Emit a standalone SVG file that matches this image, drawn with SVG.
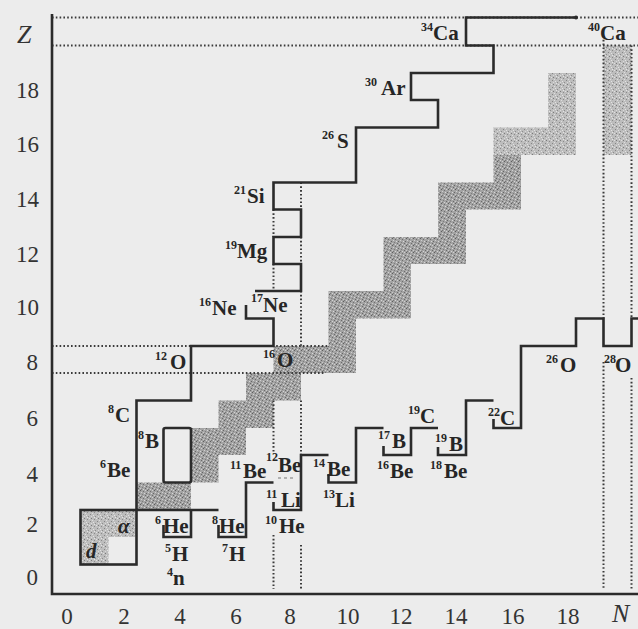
<svg xmlns="http://www.w3.org/2000/svg" width="638" height="629" viewBox="0 0 638 629">
<defs>
<pattern id="stipDark" width="7" height="7" patternUnits="userSpaceOnUse">
<rect width="7" height="7" fill="#a3a3a3"/>
<rect x="0" y="0" width="1" height="1" fill="#5e5e5e"/>
<rect x="3" y="1" width="1" height="1" fill="#6f6f6f"/>
<rect x="5" y="0" width="1" height="1" fill="#d0d0d0"/>
<rect x="1" y="2" width="1" height="1" fill="#cfcfcf"/>
<rect x="6" y="3" width="1" height="1" fill="#666666"/>
<rect x="2" y="4" width="1" height="1" fill="#7c7c7c"/>
<rect x="4" y="3" width="1" height="1" fill="#d8d8d8"/>
<rect x="0" y="5" width="1" height="1" fill="#c8c8c8"/>
<rect x="5" y="5" width="1" height="1" fill="#6a6a6a"/>
<rect x="3" y="6" width="1" height="1" fill="#d4d4d4"/>
<rect x="1" y="6" width="1" height="1" fill="#777777"/>
</pattern>
<pattern id="stipLight" width="7" height="7" patternUnits="userSpaceOnUse">
<rect width="7" height="7" fill="#bdbdbd"/>
<rect x="0" y="0" width="1" height="1" fill="#7a7a7a"/>
<rect x="3" y="1" width="1" height="1" fill="#8a8a8a"/>
<rect x="5" y="0" width="1" height="1" fill="#e0e0e0"/>
<rect x="1" y="2" width="1" height="1" fill="#dedede"/>
<rect x="6" y="3" width="1" height="1" fill="#858585"/>
<rect x="2" y="4" width="1" height="1" fill="#e2e2e2"/>
<rect x="4" y="5" width="1" height="1" fill="#8c8c8c"/>
<rect x="0" y="5" width="1" height="1" fill="#dadada"/>
<rect x="3" y="6" width="1" height="1" fill="#e4e4e4"/>
</pattern>
</defs>
<style>
.bg{fill:#ececec}
.shadeD{fill:url(#stipDark)}
.shadeL{fill:url(#stipLight)}
.drip{fill:none;stroke:#2b2b2b;stroke-width:2.6;stroke-linejoin:miter;stroke-linecap:butt}
.dot{fill:none;stroke:#3a3a3a;stroke-width:2;stroke-dasharray:1.6 2.2}
.axis{fill:none;stroke:#2b2b2b;stroke-width:2.6}
.num{font-family:"Liberation Serif","Times New Roman",serif;font-size:23px;fill:#333333}
.ax{font-family:"Liberation Serif","Times New Roman",serif;font-size:26px;font-style:italic;fill:#333333}
.lbl{font-family:"Liberation Serif","Times New Roman",serif;font-weight:bold;font-size:21px;fill:#262626}
.sup{font-family:"Liberation Serif","Times New Roman",serif;font-weight:bold;font-size:12px;fill:#262626}
.greek{font-family:"Liberation Serif","Times New Roman",serif;font-weight:bold;font-style:italic;font-size:21px;fill:#262626}
</style>

<rect class="bg" x="0" y="0" width="638" height="629"/>

<g id="stable-valley">
<path class="shadeL" d="M80.5 510H136.5V537H108.5V564.5H80.5Z"/>
<path class="shadeD" d="M136.5 482.5H191V510H136.5Z M191 455H218.5V482.5H191Z M191 428H246V455H191Z M218.5 400.5H273.5V428H218.5Z M246 373H301V400.5H246Z M273.5 346H356V373H273.5Z M328.5 318.5H356V346H328.5Z M328.5 291H411V318.5H328.5Z M383.5 264H411V291H383.5Z M383.5 237H466V264H383.5Z M438 209.5H466V237H438Z M438 182.5H521V209.5H438Z M493.5 155H521V182.5H493.5Z"/>
<path class="shadeL" d="M493.5 127.5H576V155H493.5Z M548 73H576V127.5H548Z M603.5 45.5H631.5V155H603.5Z"/>
</g>

<g id="magic-lines">
<path class="dot" d="M52 17.5H638 M52 45.5H638 M52 346H328.5 M52 373H325"/>
<path class="dot" d="M273.5 209.5V237 M273.5 264V291 M273.5 400.5V452 M273.5 535V589"/>
<path class="dot" d="M301 182.5V209.5 M301 237V264 M301 291V346 M301 400.5V455 M301 545V589"/>
<path class="dot" d="M603.5 36V318.5 M603.5 362V589 M631.5 45.5V318.5 M631.5 378V589"/>
</g>

<g id="axes">
<path class="axis" d="M52 14V594H638"/>
</g>

<g id="connectors">
<path id="proton-drip" class="drip" d="M136.5 510V400.5H191V346H273.5V318.5H246V305"/>
<path class="drip" d="M255 291H301V264H273.5V237H301V209.5H273.5V182.5H356V127.5H438V100H411V73H493.5V45.5H466V17.5H576"/>
<circle cx="576" cy="17.5" r="2" fill="#2b2b2b"/>
<path id="neutron-drip" class="drip" d="M136.5 510H218.5"/>
<path class="drip" d="M163.5 525V537H191V510"/>
<path class="drip" d="M218.5 525V537H246V482.5H273.5"/>
<path class="drip" d="M273.5 502V510H301V455H328.5"/>
<path class="drip" d="M328.5 474V482.5H356V428H383.5"/>
<path class="drip" d="M383.5 446V455H411V428H438"/>
<path class="drip" d="M438 447V455H466V400.5H493.5"/>
<path class="drip" d="M493.5 419V428H521V346H576V318.5H603.5V346H631.5V318.5H638"/>
<rect id="light-box" class="drip" x="80.5" y="510" width="56" height="54.5"/>
<rect id="be8-b9-box" class="drip" x="163.5" y="428" width="27.5" height="54.5" rx="2"/>
<path d="M278 478H296" fill="none" stroke="#777" stroke-width="1.2" stroke-dasharray="3 3"/>
</g>

<g id="axis-labels">
<text class="ax" x="17" y="43">Z</text>
<text class="ax" x="612" y="622">N</text>
<g class="num" text-anchor="end">
<text x="39" y="98">18</text>
<text x="39" y="152">16</text>
<text x="39" y="207">14</text>
<text x="39" y="262">12</text>
<text x="39" y="315">10</text>
<text x="38" y="370">8</text>
<text x="38" y="426">6</text>
<text x="38" y="482">4</text>
<text x="38" y="532">2</text>
<text x="38" y="585">0</text>
</g>
<g class="num" text-anchor="middle">
<text x="67" y="624">0</text>
<text x="124" y="624">2</text>
<text x="180" y="624">4</text>
<text x="236" y="624">6</text>
<text x="290" y="624">8</text>
<text x="348" y="624">10</text>
<text x="401" y="624">12</text>
<text x="456" y="624">14</text>
<text x="513" y="624">16</text>
<text x="568" y="624">18</text>
</g>
</g>

<g id="n-Ca34"><text class="sup" x="421" y="31">34</text><text class="lbl" x="433" y="40">Ca</text></g>
<g id="n-Ca40"><text class="sup" x="588" y="31">40</text><text class="lbl" x="600" y="40">Ca</text></g>
<g id="n-Ar30"><text class="sup" x="365" y="86">30</text><text class="lbl" x="381" y="95">Ar</text></g>
<g id="n-S26"><text class="sup" x="322" y="139">26</text><text class="lbl" x="337" y="148">S</text></g>
<g id="n-Si21"><text class="sup" x="234" y="194">21</text><text class="lbl" x="247" y="203">Si</text></g>
<g id="n-Mg19"><text class="sup" x="225" y="249">19</text><text class="lbl" x="237" y="258">Mg</text></g>
<g id="n-Ne16"><text class="sup" x="199" y="306">16</text><text class="lbl" x="212" y="315">Ne</text></g>
<g id="n-Ne17"><text class="sup" x="251" y="302">17</text><text class="lbl" x="263" y="312">Ne</text></g>
<g id="n-O12"><text class="sup" x="155" y="360">12</text><text class="lbl" x="170" y="369">O</text></g>
<g id="n-O16"><text class="sup" x="263" y="358">16</text><text class="lbl" x="277" y="367">O</text></g>
<g id="n-C8"><text class="sup" x="108" y="413">8</text><text class="lbl" x="115" y="422">C</text></g>
<g id="n-B8"><text class="sup" x="138" y="439">8</text><text class="lbl" x="145" y="448">B</text></g>
<g id="n-Be6"><text class="sup" x="100" y="468">6</text><text class="lbl" x="107" y="477">Be</text></g>
<g id="n-He6"><text class="sup" x="155" y="524">6</text><text class="lbl" x="163" y="533">He</text></g>
<g id="n-He8"><text class="sup" x="212" y="524">8</text><text class="lbl" x="219" y="533">He</text></g>
<g id="n-H5"><text class="sup" x="165" y="552">5</text><text class="lbl" x="172" y="561">H</text></g>
<g id="n-H7"><text class="sup" x="222" y="552">7</text><text class="lbl" x="229" y="561">H</text></g>
<g id="n-n4"><text class="sup" x="167" y="576">4</text><text class="lbl" x="173" y="585">n</text></g>
<g id="n-alpha"><text class="greek" x="118" y="533">α</text></g>
<g id="n-d"><text class="greek" x="86" y="558">d</text></g>
<g id="n-Be11"><text class="sup" x="230" y="469">11</text><text class="lbl" x="243" y="478">Be</text></g>
<g id="n-Be12"><text class="sup" x="266" y="461">12</text><text class="lbl" x="278" y="472">Be</text></g>
<g id="n-Li11"><text class="sup" x="266" y="498">11</text><text class="lbl" x="281" y="507">Li</text></g>
<g id="n-He10"><text class="sup" x="265" y="524">10</text><text class="lbl" x="279" y="533">He</text></g>
<g id="n-Be14"><text class="sup" x="313" y="467">14</text><text class="lbl" x="327" y="476">Be</text></g>
<g id="n-Li13"><text class="sup" x="323" y="498">13</text><text class="lbl" x="335" y="507">Li</text></g>
<g id="n-B17"><text class="sup" x="378" y="439">17</text><text class="lbl" x="392" y="448">B</text></g>
<g id="n-Be16"><text class="sup" x="377" y="469">16</text><text class="lbl" x="390" y="478">Be</text></g>
<g id="n-C19"><text class="sup" x="408" y="414">19</text><text class="lbl" x="420" y="423">C</text></g>
<g id="n-B19"><text class="sup" x="435" y="442">19</text><text class="lbl" x="449" y="451">B</text></g>
<g id="n-Be18"><text class="sup" x="430" y="469">18</text><text class="lbl" x="444" y="478">Be</text></g>
<g id="n-C22"><text class="sup" x="488" y="416">22</text><text class="lbl" x="500" y="425">C</text></g>
<g id="n-O26"><text class="sup" x="546" y="363">26</text><text class="lbl" x="560" y="372">O</text></g>
<g id="n-O28"><text class="sup" x="604" y="363">28</text><text class="lbl" x="615" y="372">O</text></g>
</svg>
